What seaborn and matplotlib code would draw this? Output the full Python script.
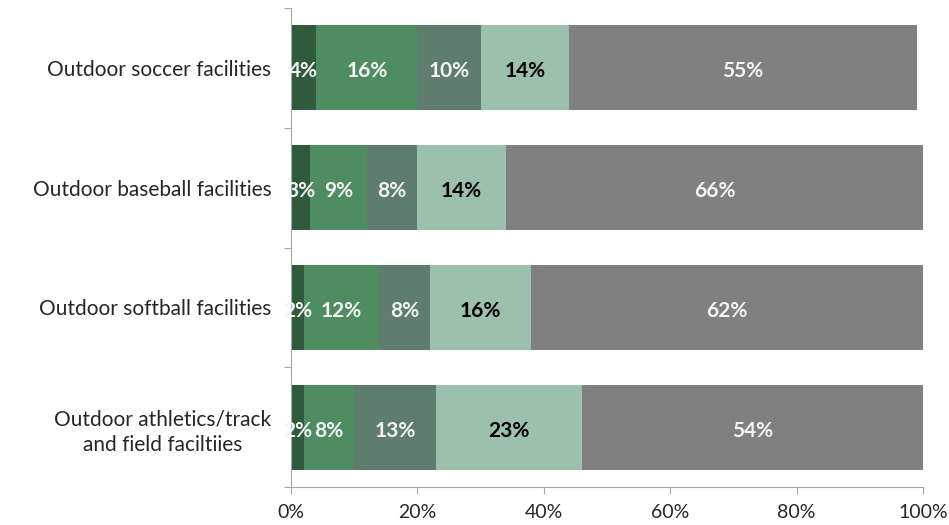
import matplotlib
matplotlib.use("Agg")
import matplotlib.pyplot as plt
import seaborn as sns
import numpy as np
import pandas as pd

categories = ["Outdoor soccer facilities", "Outdoor baseball facilities",
              "Outdoor softball facilities", "Outdoor athletics/track\nand field faciltiies"]
seg1 = [4, 3, 2, 2]
seg2 = [16, 9, 12, 8]
seg3 = [10, 8, 8, 13]
seg4 = [14, 14, 16, 23]
seg5 = [55, 66, 62, 54]
segments = [seg1, seg2, seg3, seg4, seg5]
colors = ["#2f5a3c", "#4f8c62", "#5e7d6e", "#9dbfad", "#808080"]
label_colors = ["#f4f4f4", "#f4f4f4", "#f4f4f4", "black", "#f4f4f4"]
xticks = [0, 20, 40, 60, 80, 100]
xticklabels = ["0%", "20%", "40%", "60%", "80%", "100%"]

sns.set_style("white")
plt.rcParams["font.family"] = ["Lato", "DejaVu Sans"]

fig = plt.figure(figsize=(9.49, 5.25), dpi=100)
ax = fig.add_axes([291/949, 1-487/525, (923-291)/949, (487-8)/525])

arr = np.array(segments, dtype=float)
cum = np.cumsum(arr, axis=0)
# draw from the full stack down so that earlier segments sit on top
for i in range(len(segments)-1, -1, -1):
    df = pd.DataFrame({"cat": categories, "val": cum[i]})
    sns.barplot(data=df, x="val", y="cat", orient="h", color=colors[i],
                saturation=1, width=0.71, ax=ax, errorbar=None,
                linewidth=0, edgecolor="none", zorder=2 + (5 - i) * 0.01)

starts = cum - arr
for i in range(len(segments)):
    for j in range(len(categories)):
        ax.text(starts[i, j] + arr[i, j] / 2, j + 0.03, f"{int(arr[i, j])}%",
                ha="center", va="center", fontsize=15, fontweight="bold",
                color=label_colors[i], zorder=10)

ax.set_xlim(0, 100)
ax.set_ylim(len(categories) - 0.5, -0.5)
ax.set_xticks(xticks)
ax.set_xticklabels(xticklabels, fontsize=14)
ax.set_yticks(np.arange(-0.5, len(categories), 1.0))
ax.set_yticklabels([])
ax.set_yticks(np.arange(len(categories)), minor=True)
ax.set_yticklabels(categories, minor=True, fontsize=15, multialignment="center",
                   linespacing=1.35)
ax.tick_params(axis="y", which="minor", length=0, pad=14)
ax.tick_params(axis="y", which="major", length=5, width=0.8, color="#a6a6a6", direction="out", left=True)
ax.tick_params(axis="x", which="major", length=5, width=0.8, color="#a6a6a6", direction="out", bottom=True, pad=7)
ax.set_xlabel("")
ax.set_ylabel("")
for s in ["top", "right"]:
    ax.spines[s].set_visible(False)
for s in ["left", "bottom"]:
    ax.spines[s].set_color("#a6a6a6")
    ax.spines[s].set_linewidth(0.8)

fig.savefig("out.png", dpi=100, facecolor="white")
